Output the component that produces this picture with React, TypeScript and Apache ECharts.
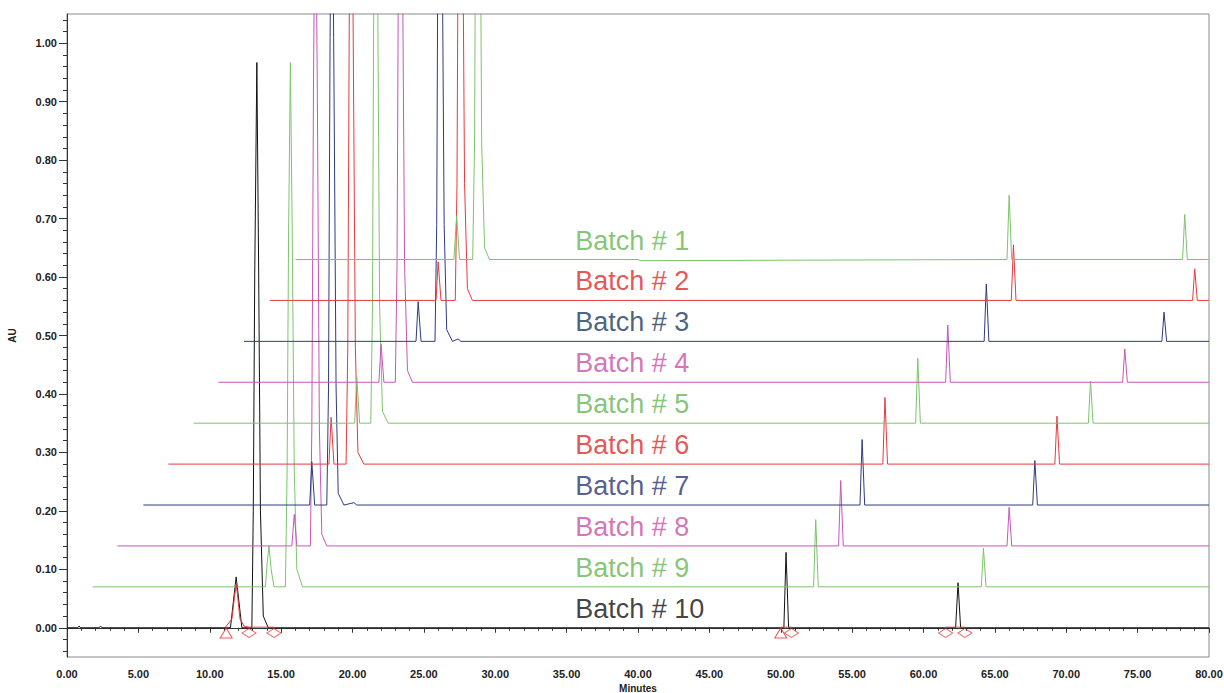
import React, { useEffect, useRef } from "react";
import * as echarts from "echarts";

// ---- data ----
const batchNames = ["Batch # 1", "Batch # 2", "Batch # 3", "Batch # 4", "Batch # 5", "Batch # 6", "Batch # 7", "Batch # 8", "Batch # 9", "Batch # 10"];
const baselines = [0.63, 0.56, 0.49, 0.42, 0.35, 0.28, 0.21, 0.14, 0.07, 0.0];
const startTimes = [16.0, 14.2, 12.4, 10.6, 8.86, 7.1, 5.35, 3.53, 1.8, 0.0];
const endTime = 80;
const labelTime = 35.6;

// vertices of each trace: [minutes, AU above own baseline]
const trace1 = [[27.1, 0], [27.3, 0.075], [27.5, 0], [28.42, 0], [28.55, 0.2], [28.66, 0.8], [28.78, 1.2], [28.9, 0.8], [29.05, 0.2], [29.25, 0.02], [29.6, 0], [40.0, 0], [40.2, -0.002], [65.85, 0], [66.0, 0.11], [66.18, 0], [78.15, 0], [78.3, 0.077], [78.48, 0]];
const trace2 = [[25.85, 0], [26.0, 0.066], [26.2, 0], [27.2, 0], [27.32, 0.2], [27.43, 0.8], [27.55, 1.2], [27.68, 0.8], [27.85, 0.2], [28.05, 0.02], [28.4, 0], [66.15, 0], [66.3, 0.095], [66.48, 0], [78.85, 0], [79.0, 0.054], [79.18, 0]];
const trace3 = [[24.45, 0], [24.6, 0.068], [24.8, 0], [25.78, 0], [25.9, 0.2], [26.0, 0.8], [26.12, 1.2], [26.25, 0.8], [26.42, 0.2], [26.6, 0.02], [27.0, 0], [27.4, 0.004], [27.6, 0], [64.25, 0], [64.4, 0.098], [64.58, 0], [76.7, 0], [76.85, 0.05], [77.03, 0]];
const trace4 = [[21.85, 0], [22.0, 0.065], [22.2, 0], [23.0, 0], [23.12, 0.2], [23.23, 0.8], [23.35, 1.2], [23.48, 0.8], [23.65, 0.2], [23.85, 0.02], [24.2, 0], [61.55, 0], [61.7, 0.098], [61.88, 0], [73.95, 0], [74.1, 0.057], [74.28, 0]];
const trace5 = [[20.15, 0], [20.3, 0.079], [20.5, 0], [21.28, 0], [21.4, 0.2], [21.5, 0.8], [21.62, 1.2], [21.75, 0.8], [21.9, 0.2], [22.1, 0.02], [22.5, 0], [59.45, 0], [59.6, 0.111], [59.78, 0], [71.55, 0], [71.7, 0.072], [71.88, 0]];
const trace6 = [[18.35, 0], [18.5, 0.08], [18.7, 0], [19.55, 0], [19.67, 0.2], [19.78, 0.8], [19.9, 1.2], [20.03, 0.8], [20.2, 0.2], [20.38, 0.02], [20.8, 0], [57.15, 0], [57.3, 0.114], [57.48, 0], [69.2, 0], [69.35, 0.082], [69.53, 0]];
const trace7 = [[17.0, 0], [17.15, 0.074], [17.35, 0], [18.2, 0], [18.32, 0.2], [18.43, 0.8], [18.55, 1.2], [18.68, 0.8], [18.85, 0.2], [19.0, 0.02], [19.4, 0], [20.1, 0.004], [20.3, 0], [55.55, 0], [55.7, 0.112], [55.88, 0], [67.65, 0], [67.8, 0.076], [67.98, 0]];
const trace8 = [[15.75, 0], [15.92, 0.054], [16.1, 0], [17.05, 0], [17.15, 0.2], [17.27, 0.8], [17.4, 1.2], [17.53, 0.8], [17.68, 0.2], [17.85, 0.02], [18.2, 0], [54.05, 0], [54.2, 0.112], [54.38, 0], [65.85, 0], [66.0, 0.066], [66.18, 0]];
const trace9 = [[13.9, 0], [14.02, 0.04], [14.15, 0.07], [14.3, 0.03], [14.5, 0], [15.3, 0], [15.42, 0.2], [15.52, 0.6], [15.65, 0.897], [15.78, 0.6], [15.92, 0.2], [16.1, 0.03], [16.5, 0], [52.3, 0], [52.45, 0.115], [52.63, 0], [64.05, 0], [64.2, 0.066], [64.38, 0]];
const trace10 = [[0.75, 0], [0.85, 0.003], [0.95, 0], [2.25, 0], [2.35, 0.003], [2.45, 0], [11.45, 0], [11.85, 0.087], [12.25, 0], [12.95, 0], [13.05, 0.2], [13.15, 0.6], [13.3, 0.967], [13.43, 0.6], [13.55, 0.2], [13.75, 0.02], [14.1, 0], [50.22, 0], [50.37, 0.129], [50.55, 0], [62.25, 0], [62.42, 0.077], [62.6, 0]];
const traces = [trace1, trace2, trace3, trace4, trace5, trace6, trace7, trace8, trace9, trace10];

// integration marks on Batch # 10 (red)
const integrationPeak = [[11.1, 0.001], [11.55, 0.015], [11.72, 0.05], [11.85, 0.075], [11.97, 0.05], [12.12, 0.015], [12.4, 0.003], [12.75, 0.001], [14.5, 0.001]];
const integrationBase2 = [[50.0, 0.001], [50.75, 0.001]];
const integrationBase3 = [[61.55, 0.001], [62.9, 0.001]];
const triangleMarks = [[11.15, -0.009], [50.0, -0.009]];
const diamondMarks = [[12.75, -0.009], [14.5, -0.009], [50.75, -0.009], [61.55, -0.009], [62.9, -0.009]];

const yMajorTicks = [0, 0.1, 0.2, 0.3, 0.4, 0.5, 0.6, 0.7, 0.8, 0.9, 1.0];
const yMinorTicks = [-0.04, -0.02, 0.02, 0.04, 0.06, 0.08, 0.12, 0.14, 0.16, 0.18, 0.22, 0.24, 0.26, 0.28, 0.32, 0.34, 0.36, 0.38, 0.42, 0.44, 0.46, 0.48, 0.52, 0.54, 0.56, 0.58, 0.62, 0.64, 0.66, 0.68, 0.72, 0.74, 0.76, 0.78, 0.82, 0.84, 0.86, 0.88, 0.92, 0.94, 0.96, 0.98, 1.02, 1.04];

// ---- styles ----
const lineColors = ["#7cc46a", "#e83a3e", "#2f3a80", "#c955b8", "#7cc46a", "#e83a3e", "#2f3a80", "#c955b8", "#7cc46a", "#111111"];
const labelColors = ["#66b552", "#e02a2a", "#1d3a5c", "#cc4fa6", "#66b552", "#e02a2a", "#2a3572", "#cc4fa6", "#66b552", "#111111"];
const redMark = "#e53535";
const FONT = "'Liberation Sans', Arial, sans-serif";

export default function App() {
  const ref = useRef<HTMLDivElement>(null);
  useEffect(() => {
    if (!ref.current) return;
    const chart = echarts.init(ref.current, undefined, { renderer: "svg" });

    const traceSeries = traces.map((tr, i) => {
      const base = baselines[i];
      const pts = [[startTimes[i], 0], ...tr, [endTime, 0]].map(([t, h]) => [t, +(base + h).toFixed(4)]);
      return {
        type: "line",
        name: batchNames[i],
        data: pts,
        showSymbol: false,
        symbol: "none",
        clip: true,
        lineStyle: { color: lineColors[i], width: 1 },
        z: 2 + (traces.length - i),
      };
    });

    const labelSeries = batchNames.map((name, i) => ({
      type: "scatter",
      data: [[labelTime, baselines[i]]],
      symbolSize: 0,
      silent: true,
      z: 30,
      label: {
        show: true,
        formatter: name,
        position: "right",
        distance: 0,
        offset: [0, -19],
        color: labelColors[i],
        fontSize: 27,
        fontFamily: FONT,
      },
    }));

    const redLine = (data: number[][]) => ({
      type: "line",
      data,
      showSymbol: false,
      symbol: "none",
      lineStyle: { color: redMark, width: 1 },
      z: 20,
    });

    const option: any = {
      animation: false,
      backgroundColor: "#ffffff",
      textStyle: { fontFamily: FONT },
      grid: { left: 67, right: 15, top: 14, bottom: 36, outerBoundsMode: "none", containLabel: false, show: true, borderColor: "#8a8a8a", borderWidth: 1 },
      xAxis: {
        type: "value",
        min: 0,
        max: 80,
        interval: 5,
        name: "Minutes",
        nameLocation: "middle",
        nameGap: 22,
        nameTextStyle: { fontSize: 10, fontWeight: "bold", color: "#222", fontFamily: FONT },
        axisLine: { show: true, lineStyle: { color: "#333", width: 1 } },
        axisTick: { show: true, length: 5, lineStyle: { color: "#333" } },
        minorTick: { show: true, splitNumber: 5, length: 3, lineStyle: { color: "#333" } },
        axisLabel: { formatter: (v: number) => v.toFixed(2), fontSize: 11, fontWeight: "bold", color: "#222", margin: 11, fontFamily: FONT },
        splitLine: { show: false },
      },
      yAxis: [
        {
          type: "value",
          min: -0.05,
          max: 1.05,
          name: "AU",
          nameLocation: "middle",
          nameGap: 50,
          nameTextStyle: { fontSize: 10, fontWeight: "bold", color: "#222", fontFamily: FONT },
          axisLine: { show: true, lineStyle: { color: "#333", width: 1 } },
          axisTick: { show: true, length: 8, customValues: yMajorTicks, lineStyle: { color: "#333" } },
          axisLabel: { customValues: yMajorTicks, formatter: (v: number) => v.toFixed(2), fontSize: 11, fontWeight: "bold", color: "#222", margin: 10, fontFamily: FONT },
          splitLine: { show: false },
        },
        {
          type: "value",
          min: -0.05,
          max: 1.05,
          position: "left",
          offset: 0,
          axisLine: { show: false },
          axisTick: { show: true, length: 4, customValues: yMinorTicks, lineStyle: { color: "#333" } },
          axisLabel: { show: false },
          splitLine: { show: false },
        },
      ],
      series: [
        ...traceSeries,
        redLine(integrationPeak),
        redLine(integrationBase2),
        redLine(integrationBase3),
        {
          type: "scatter",
          data: triangleMarks,
          symbol: "triangle",
          symbolSize: [12, 10],
          itemStyle: { color: "rgba(255,255,255,0)", borderColor: redMark, borderWidth: 1 },
          z: 21,
        },
        {
          type: "scatter",
          data: diamondMarks,
          symbol: "diamond",
          symbolSize: [14, 9],
          itemStyle: { color: "rgba(255,255,255,0)", borderColor: redMark, borderWidth: 1 },
          z: 21,
        },
        ...labelSeries,
      ],
    };
    chart.setOption(option);
    return () => chart.dispose();
  }, []);

  return <div ref={ref} style={{ position: "fixed", left: 0, top: 0, width: 1224, height: 693, background: "#fff" }} />;
}
